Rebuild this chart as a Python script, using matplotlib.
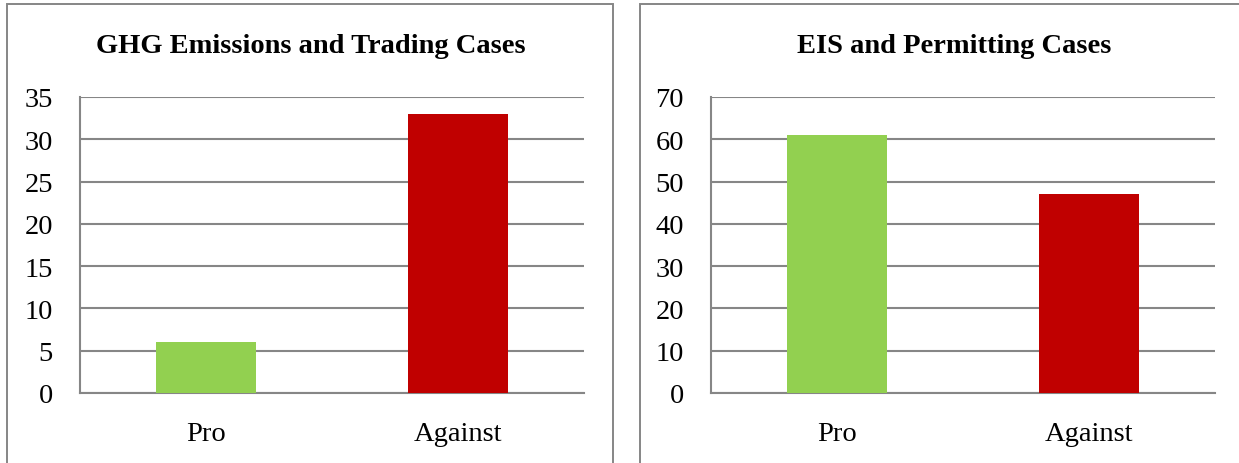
import matplotlib
matplotlib.use("Agg")
import matplotlib.pyplot as plt
from matplotlib.patches import Rectangle

# data
categories = ["Pro", "Against"]
ghg_values = [6, 33]
eis_values = [61, 47]
bar_colors = ["#92D050", "#C00000"]

plt.rcParams['font.family'] = ['Liberation Serif', 'DejaVu Serif']

W, H = 1239, 464
fig = plt.figure(figsize=(W / 100, H / 100), dpi=100)

grey = "#868686"

def px(x0, y0, x1, y1):
    # pixel box (top-left origin) -> figure fraction [left, bottom, width, height]
    return [x0 / W, 1 - y1 / H, (x1 - x0) / W, (y1 - y0) / H]

# panel borders (bottom and far right run off the picture)
for x0, x1 in [(7, 612.5), (640, 1260)]:
    b = px(x0, 5, x1, 480)
    fig.patches.append(Rectangle((b[0], b[1]), b[2], b[3], transform=fig.transFigure,
                                 fill=False, edgecolor=grey, linewidth=1.4))

def panel(rect, values, ymax, step, title, title_x):
    ax = fig.add_axes(rect)
    ax.bar(range(len(categories)), values, width=0.4, color=bar_colors, zorder=3)
    ax.set_xlim(-0.5, len(categories) - 0.5)
    ax.set_ylim(0, ymax)
    ax.set_yticks(range(0, ymax + 1, step))
    ax.set_xticks(range(len(categories)))
    ax.set_xticklabels(categories)
    ax.yaxis.grid(True, color=grey, linewidth=1.5, zorder=0)
    ax.set_axisbelow(True)
    for s in ["top", "right"]:
        ax.spines[s].set_visible(False)
    for s in ["left", "bottom"]:
        ax.spines[s].set_color(grey)
        ax.spines[s].set_linewidth(1.5)
    ax.tick_params(axis="both", length=0, labelsize=20.5)
    ax.tick_params(axis="y", pad=19.5)
    ax.tick_params(axis="x", pad=20)
    fig.text(title_x / W, 1 - 47 / H, title, ha="center", va="center",
             fontsize=20.5, fontweight="bold")
    return ax

panel(px(80, 98, 584, 394), ghg_values, 35, 5, "GHG Emissions and Trading Cases", 311)
panel(px(711, 98, 1215, 394), eis_values, 70, 10, "EIS and Permitting Cases", 954)

fig.savefig("out.png", dpi=100)
